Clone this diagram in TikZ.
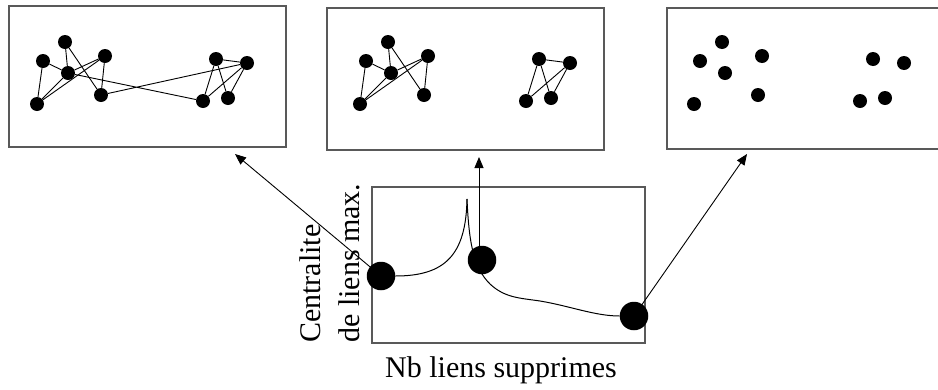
\documentclass[tikz,border=0pt]{standalone}
\usepackage{fontspec}
\setmainfont{Liberation Serif}
\usetikzlibrary{arrows.meta}
\newcommand\clusternodes[1]{%
  \node[gdot] (#1a) at (43,61) {};
  \node[gdot] (#1b) at (65,42) {};
  \node[gdot] (#1c) at (68,73) {};
  \node[gdot] (#1d) at (105,56) {};
  \node[gdot] (#1e) at (37,104) {};
  \node[gdot] (#1f) at (101,95) {};
  \node[gdot] (#1g) at (216,59) {};
  \node[gdot] (#1h) at (247,63) {};
  \node[gdot] (#1i) at (203,101) {};
  \node[gdot] (#1j) at (228,98) {};
}
\newcommand\clusteredges[1]{%
  \draw[edge] (#1a) -- (#1c) (#1a) -- (#1e) (#1b) -- (#1c) (#1b) -- (#1f)
    (#1c) -- (#1d) (#1d) -- (#1e) (#1d) -- (#1f) (#1c) -- (#1e)
    (#1g) -- (#1h) (#1g) -- (#1i) (#1g) -- (#1j) (#1i) -- (#1h) (#1j) -- (#1h);
}
\begin{document}
\begin{tikzpicture}[x=1pt,y=-1pt,
  gdot/.style={circle,fill=black,inner sep=0pt,minimum size=14pt},
  bigdot/.style={circle,fill=black,inner sep=0pt,minimum size=28.5pt},
  frame/.style={draw=black!65,line width=1.2pt},
  edge/.style={line width=0.9pt},
  curve/.style={line width=1pt},
  ptr/.style={line width=0.9pt,-{Triangle[length=11pt,width=9pt]}},
  lbl/.style={font=\fontsize{30}{36}\selectfont,inner sep=0pt}]
\useasboundingbox (0,0) rectangle (938,389);
\clip (0,0) rectangle (938,389);
\fill[white] (0,0) rectangle (938,389);
% frames
\draw[frame] (9,6) rectangle (286,147);
\draw[frame] (327,8) rectangle (604,150);
\draw[frame] (667,8) rectangle (950,149);
\draw[frame] (372,187) rectangle (645,343);
% graph 1
\clusternodes{p}
\clusteredges{p}
\draw[edge] (pc) -- (pi) (pf) -- (ph);
% graph 2
\begin{scope}[shift={(323,0)}]
\clusternodes{q}
\clusteredges{q}
\end{scope}
% graph 3
\begin{scope}[shift={(657,0)}]
\clusternodes{r}
\end{scope}
% chart
\node[bigdot] (d1) at (381,276) {};
\node[bigdot] (d2) at (482,260) {};
\node[bigdot] (d3) at (634,316) {};
\coordinate (peak) at (467,199);
\draw[curve] (d1.east) .. controls (445,276) and (466,255) .. (peak);
\draw[curve] (peak) .. controls (469,245) and (474,268) .. (490,284)
  .. controls (505,298) and (520,298) .. (540,301)
  .. controls (570,306) and (595,316) .. (d3.west);
% labels
\node[lbl,rotate=90,anchor=base west] (ylab1) at (320,343) {Centralite};
\node[lbl,rotate=90,anchor=base west] (ylab2) at (359,343) {de liens max.};
\node[lbl,anchor=base] (xlab) at (501,377) {Nb liens supprimes};
% arrows
\coordinate (t1) at (235,154);
\coordinate (t2) at (479,157);
\coordinate (t3) at (747,154);
\draw[ptr] (d1.center) -- (t1);
\draw[ptr] (t2 |- d2.center) -- (t2);
\draw[ptr] (d3.center) -- (t3);
\end{tikzpicture}
\end{document}
